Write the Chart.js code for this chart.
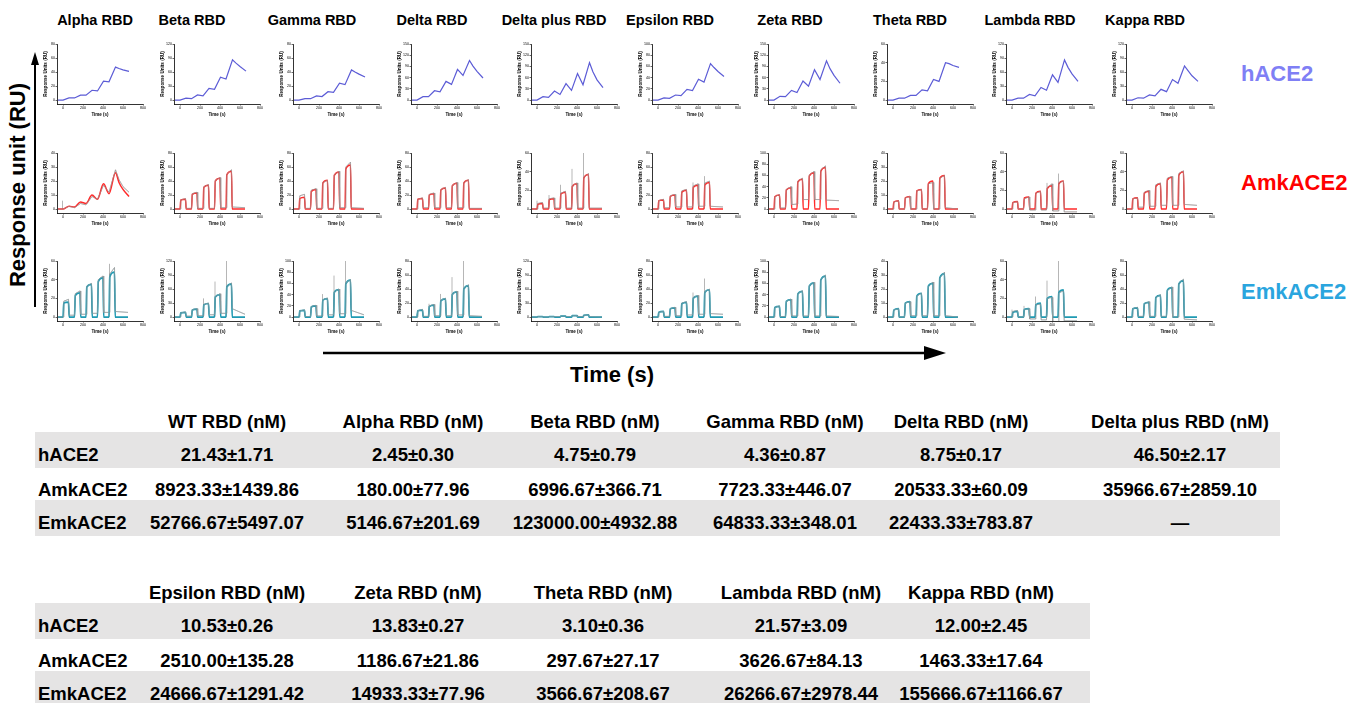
<!DOCTYPE html>
<html>
<head>
<meta charset="utf-8">
<script src="https://cdn.jsdelivr.net/npm/chart.js@4.4.1/dist/chart.umd.min.js"></script>
<style>
  body { margin: 0; background: #fff; font-family: 'Liberation Sans', Arial, sans-serif; }
  #page { position: relative; width: 1350px; height: 703px; overflow: hidden; }
  .t { position: absolute; transform: translate(-50%, -50%); white-space: nowrap; font-weight: bold; line-height: 1; }
  .l { position: absolute; transform: translateY(-50%); white-space: nowrap; font-weight: bold; line-height: 1; }
  .band { position: absolute; background: #e5e4e4; }
  canvas { position: absolute; }
  svg { position: absolute; left: 0; top: 0; }
</style>
</head>
<body>
<div id="page">
  <svg width="1350" height="703">
    <line x1="35" y1="307" x2="35" y2="62" stroke="#000" stroke-width="2"/>
    <polygon points="35,52 31,65 39,65" fill="#000"/>
    <line x1="323" y1="353" x2="928" y2="353" stroke="#000" stroke-width="2.5"/>
    <polygon points="946,353 924,346 924,360" fill="#000"/>
  </svg>
</div>
<script>
// ---- data ----
const panelTitles = ['Alpha RBD', 'Beta RBD', 'Gamma RBD', 'Delta RBD', 'Delta plus RBD',
                     'Epsilon RBD', 'Zeta RBD', 'Theta RBD', 'Lambda RBD', 'Kappa RBD'];
const receptors = ['hACE2', 'AmkACE2', 'EmkACE2'];

const timeTicks = [0, 200, 400, 600, 800];
// single-cycle runs (hACE2 row, Alpha/AmkACE2)
const singleTime = [-50, 0, 60, 115, 175, 230, 290, 345, 405, 460, 525, 560, 600, 660];
// multi-cycle runs (5 injections)
const pulseTime = [-50, 0, 8, 55, 62, 115, 123, 170, 177, 230, 238, 285, 292, 345, 353, 400, 407, 460, 468, 515, 522, 650];

const hYMax = [80, 120, 80, 150, 150, 100, 150, 60, 120, 120];
const hYStep = [20, 30, 20, 30, 30, 20, 30, 20, 30, 30];
const hFit = [
  [0, 0, 3, 3, 7, 7, 14, 13, 27, 26, 47, 45, 43, 41],
  [0, 0, 4, 3, 11, 9, 25, 23, 49, 45, 86, 79, 72, 62],
  [0, 0, 2, 2, 6, 5, 12, 11, 24, 22, 43, 40, 37, 33],
  [0, 0, 9, 9, 25, 22, 50, 42, 82, 66, 106, 91, 77, 59],
  [0, 0, 9, 7, 24, 15, 44, 26, 71, 41, 100, 75, 54, 33],
  [0, 0, 4, 3, 9, 8, 19, 17, 37, 32, 65, 58, 51, 42],
  [0, 0, 10, 9, 26, 20, 51, 37, 81, 55, 105, 84, 66, 45],
  [0, 0, 2, 2, 5, 5, 11, 10, 22, 20, 40, 39, 37, 35],
  [0, 0, 4, 4, 12, 9, 27, 21, 54, 38, 86, 70, 56, 40],
  [0, 0, 5, 4, 11, 9, 23, 18, 44, 36, 73, 63, 52, 40]
];

const amkYMax = [40, 80, 80, 80, 60, 80, 100, 40, 60, 60];
const amkYStep = [10, 20, 20, 20, 20, 20, 20, 10, 20, 20];
const amkFit = [
  [0, 0, 2, 1.5, 5, 4, 10, 7, 18, 11, 26, 19, 14, 9],
  [0, 0, 13, 14, 0, 0, 21, 23, 0, 0, 31, 34, 0, 0, 40, 44, 0, 0, 49, 54, 0, 0],
  [0, 0, 15, 17, 0, 0, 25, 28, 0, 0, 37, 41, 0, 0, 48, 53, 0, 0, 57, 63, 0, 0],
  [0, 0, 14, 15, 0, 0, 20, 22, 0, 0, 27, 30, 0, 0, 33, 37, 0, 0, 37, 41, 0, 0],
  [0, 0, 5, 6, 0, 0, 10, 11, 0, 0, 16, 18, 0, 0, 24, 27, 0, 0, 33, 37, 0, 0],
  [0, 0, 12, 13, 0, 0, 18, 20, 0, 0, 24, 27, 0, 0, 31, 34, 0, 0, 34, 38, 0, 0],
  [0, 0, 22, 25, 0, 0, 34, 38, 0, 0, 48, 53, 0, 0, 59, 65, 0, 0, 67, 74, 0, 0],
  [0, 0, 5, 6, 0, 0, 8, 9, 0, 0, 13, 14, 0, 0, 18, 20, 0, 0, 22, 24, 0, 0],
  [0, 0, 7, 8, 0, 0, 12, 13, 0, 0, 17, 19, 0, 0, 22, 25, 0, 0, 27, 30, 0, 0],
  [0, 0, 11, 12, 0, 0, 17, 19, 0, 0, 24, 27, 0, 0, 31, 34, 0, 0, 36, 40, 0, 0]
];
const amkRaw = [
  [0, 0, 2, 1, 4, 3, 9, 7, 17, 12, 28, 21, 16, 12],
  [0, 0, 13, 15, 1, 1, 22, 24, 1, 1, 32, 35, 1, 1, 41, 45, 2, 2, 50, 56, 3, 2],
  [0, 0, 19, 21, 1, 1, 27, 29, 1, 1, 38, 41, 1, 1, 49, 54, 2, 2, 60, 67, 2, 1],
  [0, 0, 14, 16, 2, 2, 21, 23, 2, 2, 28, 31, 2, 2, 34, 38, 2, 2, 38, 42, 1, 1],
  [0, 0, 6, 7, 1, 1, 11, 12, 1, 1, 17, 19, 1, 1, 25, 28, 1, 1, 34, 38, 1, 1],
  [0, 0, 12, 14, 2, 2, 19, 21, 3, 3, 26, 28, 3, 3, 33, 36, 4, 4, 37, 40, 4, 3],
  [0, 0, 22, 26, 2, 2, 35, 40, 8, 9, 50, 55, 17, 17, 61, 67, 17, 17, 70, 77, 16, 15],
  [0, 0, 5, 6, 0, 0, 8, 9, 0, 0, 13, 14, 0, 0, 18, 19, 0, 0, 22, 24, 1, 0],
  [0, 0, 7, 8, 0, 0, 11, 13, -1, -1, 17, 19, -1, -1, 23, 27, -2, -2, 28, 30, -3, -3],
  [0, 0, 11, 12, 2, 2, 18, 20, 3, 3, 26, 28, 4, 4, 33, 35, 4, 4, 38, 41, 5, 4]
];
const amkSpikes = [
  [[-5, 6]], [], [], [],
  [[0, 9], [120, 15], [235, 26], [350, 43], [465, 60]],
  [[350, 38], [465, 47]],
  [], [],
  [[350, 28], [465, 38]],
  []
];

const emkYMax = [60, 120, 100, 80, 120, 80, 100, 40, 60, 80];
const emkYStep = [20, 30, 20, 20, 30, 20, 20, 10, 20, 20];
const emkFit = [
  [0, 0, 15, 16, 0, 0, 23, 26, 0, 0, 32, 35, 0, 0, 38, 42, 0, 0, 43, 48, 0, 0],
  [0, 0, 9, 10, 0, 0, 15, 17, 0, 0, 26, 29, 0, 0, 43, 48, 0, 0, 64, 71, 0, 0],
  [0, 0, 11, 12, 0, 0, 18, 20, 0, 0, 30, 33, 0, 0, 44, 49, 0, 0, 59, 66, 0, 0],
  [0, 0, 9, 10, 0, 0, 15, 17, 0, 0, 23, 26, 0, 0, 32, 36, 0, 0, 40, 45, 0, 0],
  [0, 0, 1, 1, 0, 0, 1, 1, 0, 0, 2, 2, 0, 0, 3, 3, 0, 0, 4, 5, 0, 0],
  [0, 0, 7, 8, 0, 0, 12, 13, 0, 0, 19, 21, 0, 0, 27, 30, 0, 0, 35, 39, 0, 0],
  [0, 0, 17, 19, 0, 0, 28, 31, 0, 0, 41, 46, 0, 0, 55, 61, 0, 0, 66, 73, 0, 0],
  [0, 0, 5, 6, 0, 0, 10, 11, 0, 0, 15, 17, 0, 0, 22, 24, 0, 0, 28, 31, 0, 0],
  [0, 0, 5, 6, 0, 0, 8, 9, 0, 0, 13, 15, 0, 0, 20, 22, 0, 0, 26, 29, 0, 0],
  [0, 0, 12, 13, 0, 0, 19, 21, 0, 0, 28, 31, 0, 0, 38, 42, 0, 0, 47, 52, 0, 0]
];
const emkRaw = [
  [0, 0, 17, 19, 2, 2, 25, 28, 3, 3, 33, 36, 4, 4, 40, 44, 5, 5, 46, 53, 6, 5],
  [0, 0, 9, 11, 2, 2, 16, 18, 3, 3, 27, 30, 5, 5, 44, 50, 8, 8, 65, 73, 18, 6],
  [0, 0, 11, 13, 1, 1, 19, 21, 2, 2, 31, 34, 4, 4, 45, 50, 6, 6, 61, 67, 12, 4],
  [0, 0, 9, 11, 1, 1, 16, 18, 2, 2, 24, 27, 2, 2, 33, 37, 3, 3, 41, 46, 2, 1],
  [0, 0, 1, 1, 0, 0, 1, 1, 1, 1, 2, 2, 1, 1, 3, 3, 1, 1, 4, 5, 1, 0],
  [0, 0, 7, 8, 1, 1, 12, 14, 2, 2, 20, 22, 3, 3, 28, 31, 4, 4, 36, 40, 5, 4],
  [0, 0, 17, 20, 1, 1, 28, 32, 2, 2, 42, 47, 2, 2, 56, 62, 2, 2, 67, 75, 2, 1],
  [0, 0, 5, 6, 0, 0, 10, 11, 1, 1, 15, 17, 1, 1, 22, 25, 1, 1, 28, 32, 1, 0],
  [0, 0, 6, 7, 0, 0, 8, 9, -2, -2, 13, 14, -3, -3, 20, 21, -5, -5, 26, 28, -4, -4],
  [0, 0, 12, 14, 1, 1, 19, 22, 1, 1, 28, 32, 1, 1, 38, 43, 0, 0, 48, 54, -3, -4]
];
const emkSpikes = [
  [[465, 57]],
  [[235, 40], [350, 76], [465, 120]],
  [[235, 41], [350, 74], [465, 100]],
  [[0, 5], [120, 19], [235, 33], [350, 57], [465, 80]],
  [],
  [[350, 35], [465, 55]],
  [], [],
  [[0, 8], [120, 12], [235, 22], [350, 39], [465, 61]],
  []
];

const kdCols1 = ['WT RBD (nM)', 'Alpha RBD (nM)', 'Beta RBD (nM)', 'Gamma RBD (nM)', 'Delta RBD (nM)', 'Delta plus RBD (nM)'];
const kdTable1 = [
  ['21.43±1.71', '2.45±0.30', '4.75±0.79', '4.36±0.87', '8.75±0.17', '46.50±2.17'],
  ['8923.33±1439.86', '180.00±77.96', '6996.67±366.71', '7723.33±446.07', '20533.33±60.09', '35966.67±2859.10'],
  ['52766.67±5497.07', '5146.67±201.69', '123000.00±4932.88', '64833.33±348.01', '22433.33±783.87', '—']
];
const kdCols2 = ['Epsilon RBD (nM)', 'Zeta RBD (nM)', 'Theta RBD (nM)', 'Lambda RBD (nM)', 'Kappa RBD (nM)'];
const kdTable2 = [
  ['10.53±0.26', '13.83±0.27', '3.10±0.36', '21.57±3.09', '12.00±2.45'],
  ['2510.00±135.28', '1186.67±21.86', '297.67±27.17', '3626.67±84.13', '1463.33±17.64'],
  ['24666.67±1291.42', '14933.33±77.96', '3566.67±208.67', '26266.67±2978.44', '155666.67±1166.67']
];

// ---- layout ----
const page = document.getElementById('page');
const axisX = [57, 174, 293, 411, 531, 652, 768, 887, 1006, 1126];
const titleX = [95, 192, 312, 432, 554, 670, 790, 910, 1030, 1145];
const rowTop = [38, 147, 255];
const rowColors = ['#7f7ff5', '#ff0000', '#2aa5de'];
const rowLabelY = [74, 183, 292];

Chart.defaults.font.family = "'Liberation Sans', Arial, sans-serif";
Chart.defaults.color = '#000';

function addText(str, x, y, size, cls, color) {
  const d = document.createElement('div');
  d.className = cls;
  d.textContent = str;
  d.style.left = x + 'px';
  d.style.top = y + 'px';
  d.style.fontSize = size + 'px';
  if (color) d.style.color = color;
  page.appendChild(d);
  return d;
}

function pts(time, vals) {
  return time.map((t, i) => ({ x: t, y: vals[i] }));
}

function lineSet(data, color, width, smooth) {
  return {
    data: data, borderColor: color, borderWidth: width, pointRadius: 0,
    tension: 0, cubicInterpolationMode: smooth ? 'monotone' : 'default'
  };
}

function spikeSets(spikes) {
  return spikes.map(s => lineSet([{ x: s[0], y: 0 }, { x: s[0], y: s[1] }], '#6d6d6d', 0.5, false));
}

function drawPanel(col, row, yMax, yStep, sets) {
  const yTicks = [];
  for (let v = 0; v <= yMax; v += yStep) yTicks.push({ value: v });

  const c = document.createElement('canvas');
  c.width = 118;
  c.height = 86;
  c.style.left = (axisX[col] - 28) + 'px';
  c.style.top = rowTop[row] + 'px';
  page.appendChild(c);
  new Chart(c, {
    type: 'line',
    data: { datasets: sets },
    options: {
      responsive: false,
      animation: false,
      events: [],
      layout: { padding: { left: 14, right: 4, top: 6, bottom: 7 } },
      plugins: { legend: { display: false }, tooltip: { enabled: false } },
      scales: {
        x: {
          type: 'linear', min: -60, max: 800, bounds: 'data',
          afterBuildTicks: s => { s.ticks = timeTicks.map(v => ({ value: v })); },
          grid: { drawOnChartArea: false, tickLength: 1.5, color: '#000', lineWidth: 0.6 },
          border: { color: '#000', width: 0.8 },
          ticks: { maxRotation: 0, autoSkip: false, padding: 0.5, font: { size: 3.6 } },
          title: { display: true, text: 'Time (s)', padding: 0, font: { size: 4.5, weight: 'bold' } },
          afterFit: s => { s.height = 13; }
        },
        y: {
          type: 'linear', min: -yMax * 0.07, max: yMax, bounds: 'data',
          afterBuildTicks: s => { s.ticks = yTicks.slice(); },
          grid: { drawOnChartArea: false, tickLength: 1.5, color: '#000', lineWidth: 0.6 },
          border: { color: '#000', width: 0.8 },
          ticks: { autoSkip: false, padding: 0.5, font: { size: 3.6 } },
          title: { display: true, text: 'Response Units (RU)', padding: 0, font: { size: 4.6, weight: 'bold' } },
          afterFit: s => { s.width = 14; }
        }
      }
    }
  });
}

// panel titles and row labels
panelTitles.forEach((t, i) => addText(t, titleX[i], 20, 14.5, 't'));
receptors.forEach((r, i) => addText(r, 1241, rowLabelY[i], 22, 'l', rowColors[i]));

const yLab = addText('Response unit (RU)', 18, 185, 22, 't');
yLab.style.transform = 'translate(-50%, -50%) rotate(-90deg)';
addText('Time (s)', 612, 375, 22, 't');

// sensorgrams
for (let i = 0; i < panelTitles.length; i++) {
  drawPanel(i, 0, hYMax[i], hYStep[i], [lineSet(pts(singleTime, hFit[i]), '#5c5cd6', 1.2, false)]);

  const amkT = amkFit[i].length === singleTime.length ? singleTime : pulseTime;
  drawPanel(i, 1, amkYMax[i], amkYStep[i], [
    lineSet(pts(amkT, amkRaw[i]), '#9a9a9a', 0.6, false),
    lineSet(pts(amkT, amkFit[i]), '#ff2a2a', 1.5, true),
    lineSet(pts(amkT, amkRaw[i]), 'rgba(60,20,20,0.55)', 0.5, false)
  ].concat(spikeSets(amkSpikes[i])));

  drawPanel(i, 2, emkYMax[i], emkYStep[i], [
    lineSet(pts(pulseTime, emkRaw[i]), '#9a9a9a', 0.6, false),
    lineSet(pts(pulseTime, emkFit[i]), '#1f9ab3', 1.7, true),
    lineSet(pts(pulseTime, emkRaw[i]), 'rgba(20,60,70,0.6)', 0.5, false)
  ].concat(spikeSets(emkSpikes[i])));
}

// affinity tables
function drawTable(cols, rows, colX, headY, bandRight) {
  const rowY = [headY + 33, headY + 68, headY + 101];
  [0, 2].forEach(r => {
    const b = document.createElement('div');
    b.className = 'band';
    b.style.left = '35px';
    b.style.top = (rowY[r] - 23) + 'px';
    b.style.width = (bandRight - 35) + 'px';
    b.style.height = '36px';
    page.appendChild(b);
  });
  cols.forEach((c, j) => addText(c, colX[j], headY, 18.5, 't'));
  rows.forEach((vals, r) => {
    addText(receptors[r], 38, rowY[r], 18.5, 'l');
    vals.forEach((v, j) => addText(v, colX[j], rowY[r], 18.5, 't'));
  });
}

drawTable(kdCols1, kdTable1, [227, 413, 595, 785, 961, 1180], 422, 1280);
drawTable(kdCols2, kdTable2, [227, 418, 603, 801, 981], 593, 1090);
</script>
</body>
</html>
